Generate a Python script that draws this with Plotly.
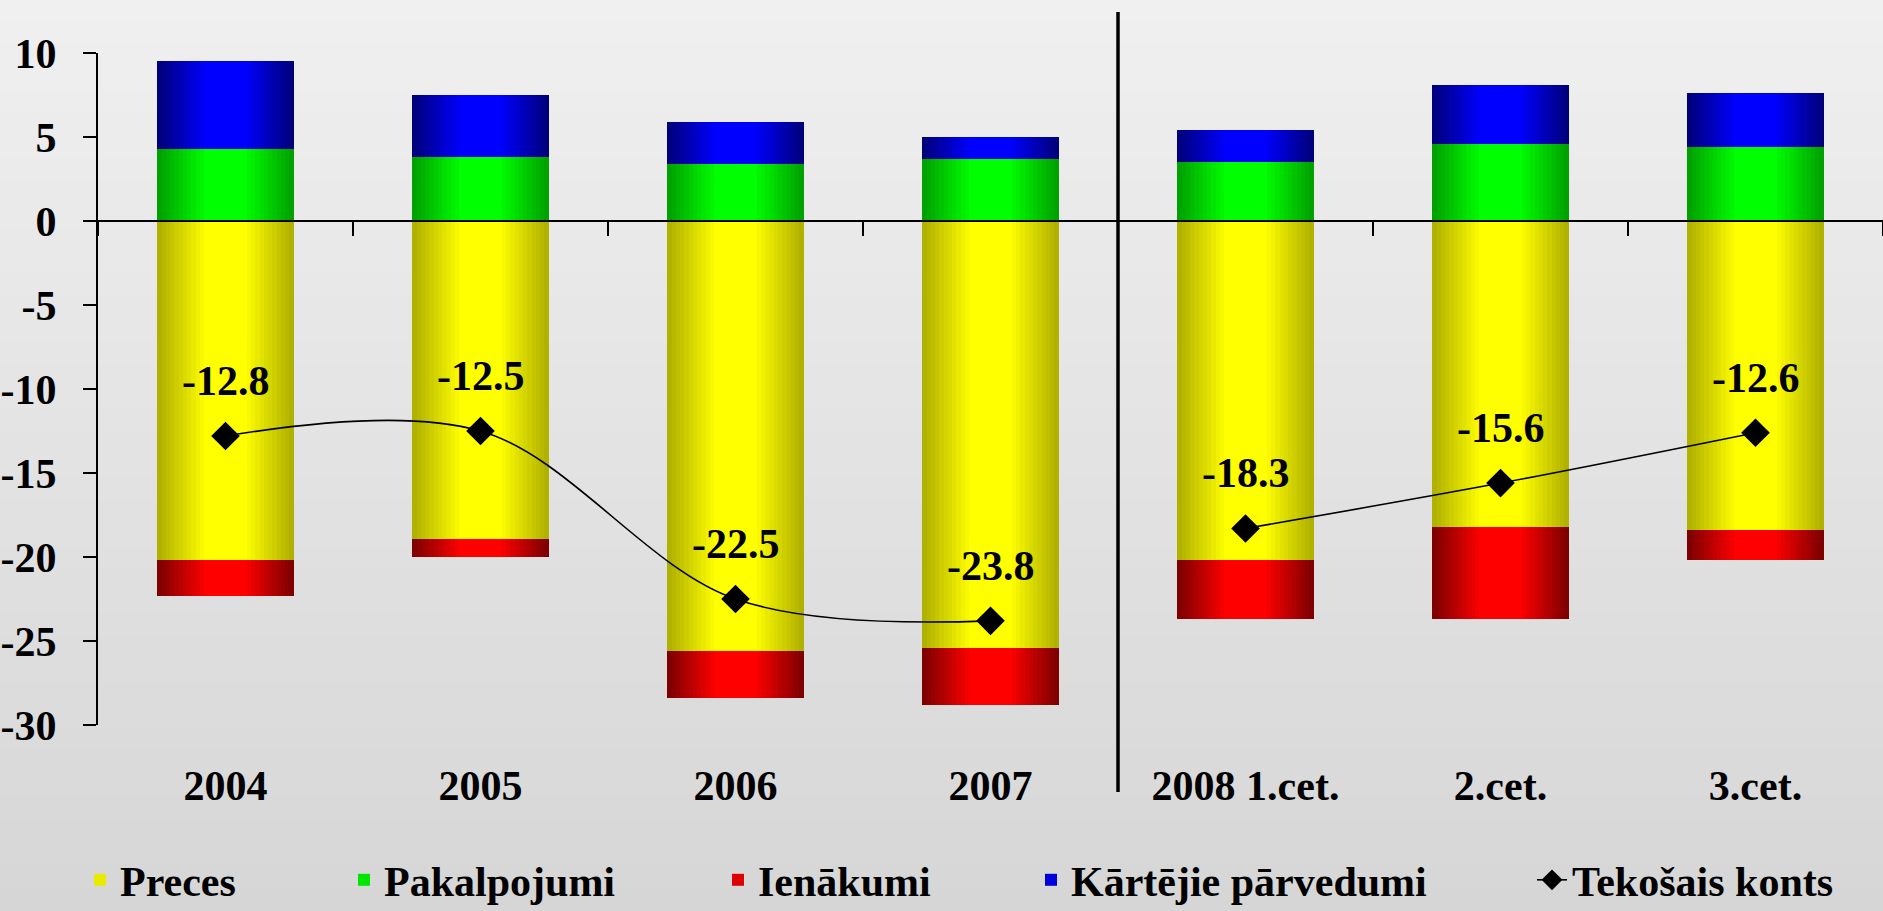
import plotly.graph_objects as go

# ---------------- data ----------------
categories = ["2004", "2005", "2006", "2007", "2008 1.cet.", "2.cet.", "3.cet."]
preces = [-20.2, -18.9, -25.6, -25.4, -20.2, -18.2, -18.4]
pakalpojumi = [4.3, 3.8, 3.4, 3.7, 3.5, 4.6, 4.4]
ienakumi = [-2.1, -1.1, -2.8, -3.4, -3.5, -5.5, -1.8]
karteji = [5.2, 3.7, 2.5, 1.3, 1.9, 3.5, 3.2]
tekosais = [-12.8, -12.5, -22.5, -23.8, -18.3, -15.6, -12.6]
annual_n = 4  # first four points are annual, then quarterly 2008

y_tickvals = [10, 5, 0, -5, -10, -15, -20, -25, -30]
y_ticktext = ["10", "5", "0", "-5", "-10", "-15", "-20", "-25", "-30"]

# ---------------- style ----------------
FONT = "Liberation Serif"
FS = 42
W_PX, H_PX = 1883, 911
ML, MR, MT, MB = 98, 0, 53, 186
PW, PH = W_PX - ML - MR, H_PX - MT - MB


def hex2rgb(h):
    h = h.lstrip("#")
    return tuple(int(h[i:i + 2], 16) for i in (0, 2, 4))


def lerp(c1, c2, t):
    a, b = hex2rgb(c1), hex2rgb(c2)
    return "rgb(%d,%d,%d)" % tuple(round(a[k] + (b[k] - a[k]) * t) for k in range(3))


def py(px):
    """pixel row (from top of figure) -> paper y"""
    return (PH + MT - px) / PH


fig = go.Figure()

BAR_W = 0.535
NL = 16
zeros = [0] * len(categories)
series = [
    ("Preces", preces, zeros, "#ADAD00", "#FFFF00", "legend"),
    ("Pakalpojumi", pakalpojumi, zeros, "#009E00", "#00FF00", "legend2"),
    ("Ienākumi", ienakumi, preces, "#7A0000", "#FF0000", "legend3"),
    ("Kārtējie pārvedumi", karteji, pakalpojumi, "#000078", "#0000FF", "legend4"),
]
for name, vals, base, edge, center, leg in series:
    for i in range(NL):
        wf = 1 - i / NL
        fmid = 1 - (i + 0.5) / NL
        s = max(0.0, min(1.0, (1 - fmid) / 0.72))
        col = lerp(edge, center, s)
        fig.add_trace(go.Bar(
            x=categories, y=vals, base=base, width=BAR_W * wf,
            marker=dict(color=col, line=dict(width=0)),
            name=name, legend=leg, showlegend=(i == NL // 2),
            hoverinfo="skip" if i else "y+name",
        ))

# current account line (split at the annual/quarterly divide)
line_style = dict(color="black", width=1.6, shape="spline", smoothing=1)
marker_style = dict(symbol="diamond", size=22, color="black")
fig.add_trace(go.Scatter(
    x=categories[:annual_n], y=tekosais[:annual_n], xaxis="x2",
    mode="lines+markers", name="Tekošais konts", legend="legend5",
    line=line_style, marker=marker_style,
))
fig.add_trace(go.Scatter(
    x=categories[annual_n:], y=tekosais[annual_n:], xaxis="x2",
    mode="lines+markers", name="Tekošais konts", showlegend=False,
    line=line_style, marker=marker_style,
))

# data labels (category index used as position on the category axis)
for idx, v in enumerate(tekosais):
    fig.add_annotation(x=idx, y=v, xref="x2", yref="y", text=f"{v:.1f}",
                       showarrow=False, yshift=55,
                       font=dict(family=FONT, size=FS, color="black", weight="bold"))

# background gradient bands
shapes = []
NB = 40
for k in range(NB):
    y_top_px = k * H_PX / NB
    y_bot_px = (k + 1) * H_PX / NB
    col = lerp("#F0F0F0", "#D6D6D6", (k + 0.5) / NB)
    shapes.append(dict(type="rect", xref="paper", yref="paper", layer="below",
                       x0=-ML / PW - 0.01, x1=1.01,
                       y0=py(y_bot_px) - (0.02 if k == NB - 1 else 0.002),
                       y1=py(y_top_px) + (0.02 if k == 0 else 0.002),
                       fillcolor=col, line=dict(width=0)))
# vertical divider between annual and quarterly data
shapes.append(dict(type="line", xref="x", yref="paper",
                   x0=annual_n - 0.5, x1=annual_n - 0.5,
                   y0=py(792), y1=py(12),
                   line=dict(color="black", width=3.5), layer="above"))

tickfont = dict(family=FONT, size=FS, color="black", weight="bold")
legfont = dict(family=FONT, size=FS, color="black", weight="bold")


def leg(xpx):
    return dict(orientation="h", x=(xpx - ML) / PW, xanchor="left",
                y=py(880), yanchor="middle",
                bgcolor="rgba(0,0,0,0)", font=legfont, itemclick=False)


fig.update_layout(
    width=W_PX, height=H_PX,
    margin=dict(l=ML, r=MR, t=MT, b=MB, autoexpand=False),
    paper_bgcolor="#E3E3E3", plot_bgcolor="rgba(0,0,0,0)",
    barmode="overlay", bargap=0,
    shapes=shapes,
    font=dict(family=FONT, size=FS, color="black"),
    xaxis=dict(type="category", categoryarray=categories, categoryorder="array",
               range=[-0.5, len(categories) - 0.5], showline=False, ticks="",
               showgrid=False, zeroline=False, tickfont=tickfont,
               ticklabelstandoff=32, automargin=False),
    xaxis2=dict(type="category", categoryarray=categories, categoryorder="array",
                range=[-0.5, len(categories) - 0.5], overlaying="x",
                anchor="free", position=30 / 40, side="bottom",
                showline=True, linecolor="black", linewidth=2,
                ticks="outside", ticklen=14, tickwidth=2, tickcolor="black",
                tickson="boundaries", showticklabels=False,
                showgrid=False, zeroline=False),
    yaxis=dict(range=[-30, 10], tickvals=y_tickvals, ticktext=y_ticktext,
               showline=True, linecolor="black", linewidth=2,
               ticks="outside", ticklen=13, tickwidth=2, tickcolor="black",
               showgrid=False, zeroline=False, tickfont=tickfont,
               ticklabelstandoff=18, automargin=False),
    legend=leg(80), legend2=leg(344), legend3=leg(718),
    legend4=leg(1031), legend5=leg(1532),
    showlegend=True,
)

fig.write_html(
    "out.html",
    config={"displayModeBar": False},
    post_script="document.body.style.margin='0';document.body.style.overflow='hidden';",
)
